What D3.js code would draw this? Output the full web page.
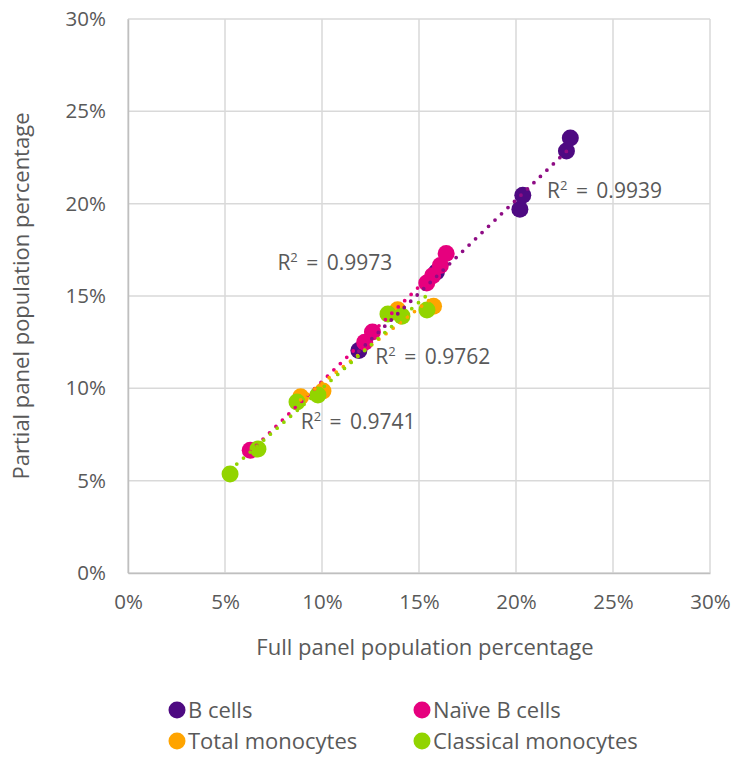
<!DOCTYPE html>
<html>
<head>
<meta charset="utf-8">
<script src="https://cdn.jsdelivr.net/npm/d3@7"></script>
<style>
  body { margin: 0; background: #fff; }
  text { font-family: "Open Sans", Lato, sans-serif; fill: #595959; }
</style>
</head>
<body>
<div id="chart"></div>
<script>
// Series data (percent values)
var seriesNames = ['B cells', 'Naïve B cells', 'Total monocytes', 'Classical monocytes'];
var seriesColors = ['#4E0A82', '#E6007E', '#FFA400', '#92D400'];
var trendColors = ['#8E0C84', '#E6007E', '#FFA400', '#92D400'];

var bCellsFull = [11.9, 15.9, 20.2, 20.35, 22.6, 22.8];
var bCellsPartial = [12.05, 16.3, 19.7, 20.45, 22.85, 23.55];

var naiveFull = [6.3, 12.2, 12.6, 15.4, 15.7, 16.1, 16.4];
var naivePartial = [6.65, 12.5, 13.05, 15.7, 16.1, 16.65, 17.3];

var monoFull = [8.9, 10.05, 13.9, 15.75];
var monoPartial = [9.55, 9.85, 14.25, 14.45];

var classicalFull = [5.26, 6.7, 8.71, 9.79, 13.4, 14.12, 15.41];
var classicalPartial = [5.36, 6.71, 9.26, 9.64, 14.02, 13.91, 14.24];

// R² labels: text and anchor position in data units
var r2Labels = ['R² = 0.9939', 'R² = 0.9973', 'R² = 0.9762', 'R² = 0.9741'];
var r2LabelX = [21.6, 7.7, 12.75, 8.9];
var r2LabelY = [20.3, 16.4, 11.3, 7.8];

var tickValues = [0, 5, 10, 15, 20, 25, 30];

var allSeries = [
    {x: bCellsFull, y: bCellsPartial},
    {x: naiveFull, y: naivePartial},
    {x: monoFull, y: monoPartial},
    {x: classicalFull, y: classicalPartial}
];

var width = 734, height = 769;
var plot = {left: 128, right: 710, top: 19, bottom: 573};

var svg = d3.select('#chart').append('svg')
    .attr('width', width)
    .attr('height', height);

var xScale = d3.scaleLinear().domain([0, 30]).range([plot.left, plot.right]);
var yScale = d3.scaleLinear().domain([0, 30]).range([plot.bottom, plot.top]);

// Gridlines
svg.append('g').selectAll('line.vg').data(tickValues).enter().append('line')
    .attr('x1', (d) => xScale(d)).attr('x2', (d) => xScale(d))
    .attr('y1', plot.top).attr('y2', plot.bottom)
    .attr('stroke', '#D9D9D9').attr('stroke-width', 1.5);
svg.append('g').selectAll('line.hg').data(tickValues).enter().append('line')
    .attr('y1', (d) => yScale(d)).attr('y2', (d) => yScale(d))
    .attr('x1', plot.left).attr('x2', plot.right)
    .attr('stroke', '#D9D9D9').attr('stroke-width', 1.5);

// Axes
var xAxis = d3.axisBottom(xScale).tickValues(tickValues).tickSize(0).tickPadding(18)
    .tickFormat((d) => d + '%');
var yAxis = d3.axisLeft(yScale).tickValues(tickValues).tickSize(0).tickPadding(22)
    .tickFormat((d) => d + '%');

var gx = svg.append('g').attr('transform', `translate(0,${plot.bottom})`).call(xAxis);
var gy = svg.append('g').attr('transform', `translate(${plot.left},0)`).call(yAxis);
[gx, gy].forEach((g) => {
    g.select('.domain').attr('stroke', '#BFBFBF').attr('stroke-width', 1.5);
    g.selectAll('text').style('font-size', '20.5px').attr('fill', '#595959')
        .style('font-family', '"Open Sans", Lato, sans-serif');
});
gx.selectAll('text').attr('dy', '0.9em');

// Axis titles
svg.append('text').attr('x', 425).attr('y', 655)
    .attr('text-anchor', 'middle').style('font-size', '22px')
    .text('Full panel population percentage');
svg.append('text').attr('transform', 'translate(29,296) rotate(-90)')
    .attr('text-anchor', 'middle').style('font-size', '22px')
    .text('Partial panel population percentage');

// Markers
allSeries.forEach((s, i) => {
    svg.append('g').selectAll('circle').data(s.x).enter().append('circle')
        .attr('cx', (d) => xScale(d))
        .attr('cy', (d, j) => yScale(s.y[j]))
        .attr('r', 8.5)
        .attr('fill', seriesColors[i]);
});

// Linear trendlines (least squares over each series)
allSeries.forEach((s, i) => {
    var mx = d3.mean(s.x), my = d3.mean(s.y);
    var sxy = d3.sum(s.x, (d, j) => (d - mx) * (s.y[j] - my));
    var sxx = d3.sum(s.x, (d) => (d - mx) * (d - mx));
    var slope = sxy / sxx, icpt = my - slope * mx;
    var x0 = d3.min(s.x), x1 = d3.max(s.x);
    svg.append('line')
        .attr('x1', xScale(x0)).attr('y1', yScale(slope * x0 + icpt))
        .attr('x2', xScale(x1)).attr('y2', yScale(slope * x1 + icpt))
        .attr('stroke', trendColors[i])
        .attr('stroke-width', 3.8)
        .attr('stroke-linecap', 'round')
        .attr('stroke-dasharray', '0 9');
});

// R² labels
r2Labels.forEach((t, i) => {
    var lbl = svg.append('text')
        .attr('x', xScale(r2LabelX[i])).attr('y', yScale(r2LabelY[i]))
        .style('font-size', '21px')
        .style('word-spacing', '3px');
    var parts = t.split('²');
    lbl.append('tspan').text(parts[0]);
    lbl.append('tspan').attr('dy', -8).style('font-size', '13px').text('2');
    lbl.append('tspan').attr('dy', 8).text(parts[1]);
});

// Legend
var legendX = [177, 422];
var legendY = [710, 741];
seriesNames.forEach((name, i) => {
    var lx = legendX[i % 2], ly = legendY[Math.floor(i / 2)];
    svg.append('circle').attr('cx', lx).attr('cy', ly).attr('r', 8.5)
        .attr('fill', seriesColors[i]);
    svg.append('text').attr('x', lx + 11).attr('y', ly + 8)
        .style('font-size', '22px').text(name);
});
</script>
</body>
</html>
